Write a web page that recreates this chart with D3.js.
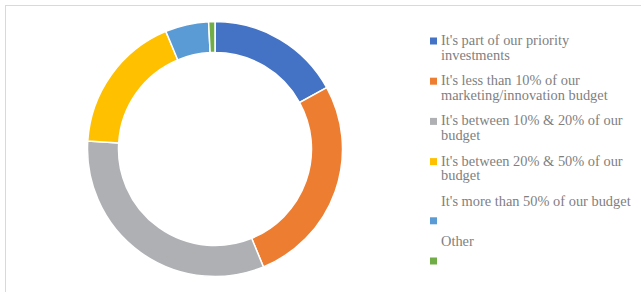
<!DOCTYPE html>
<html><head><meta charset="utf-8">
<script src="https://cdn.jsdelivr.net/npm/d3@7"></script>
<style>html,body{margin:0;padding:0;background:#fff;}svg{display:block;}</style>
</head><body>
<svg id="chart" width="641" height="292"></svg>
<script>
const categories = [
  "It's part of our priority investments",
  "It's less than 10% of our marketing/innovation budget",
  "It's between 10% & 20% of our budget",
  "It's between 20% & 50% of our budget",
  "It's more than 50% of our budget",
  "Other"
];
const legendLines = [
  ["It's part of our priority", "investments"],
  ["It's less than 10% of our", "marketing/innovation budget"],
  ["It's between 10% & 20% of our", "budget"],
  ["It's between 20% & 50% of our", "budget"],
  ["It's more than 50% of our budget"],
  ["Other"]
];
const values = [17.0, 26.8, 32.2, 17.7, 5.5, 0.8];
const colors = ["#4472C4", "#ED7D31", "#AFB0B4", "#FFC000", "#5B9BD5", "#70AD47"];

const svg = d3.select("#chart");
svg.append("rect").attr("x", 5.5).attr("y", 5.5).attr("width", 700).attr("height", 400)
  .attr("fill", "none").attr("stroke", "#d9d9d9").attr("stroke-width", 1);

const cx = 215, cy = 149, rOuter = 127.5, rInner = 96.5;
const pie = d3.pie().sort(null).value(d => d)(values);
const arc = d3.arc().innerRadius(rInner).outerRadius(rOuter);
const g = svg.append("g").attr("transform", `translate(${cx},${cy})`);
g.selectAll("path").data(pie).join("path")
  .attr("d", arc)
  .attr("fill", (d, i) => colors[i])
  .attr("stroke", "#fff").attr("stroke-width", 1.5);

const lg = svg.append("g").attr("font-family", "'Liberation Serif', 'DejaVu Serif', serif")
  .attr("font-size", 14.4).attr("fill", "#7f7f7f");
const y0 = 45, step = 40.2, lineH = 14.5;
legendLines.forEach((lines, i) => {
  const by = y0 + i * step;
  const markerShift = lines.length === 1 ? 19 : 0;
  lg.append("rect").attr("x", 430).attr("y", by - 7.5 + markerShift)
    .attr("width", 7).attr("height", 7).attr("fill", colors[i]);
  lines.forEach((t, j) => {
    lg.append("text").attr("x", 441).attr("y", by + j * lineH).text(t);
  });
});
</script>
</body></html>
